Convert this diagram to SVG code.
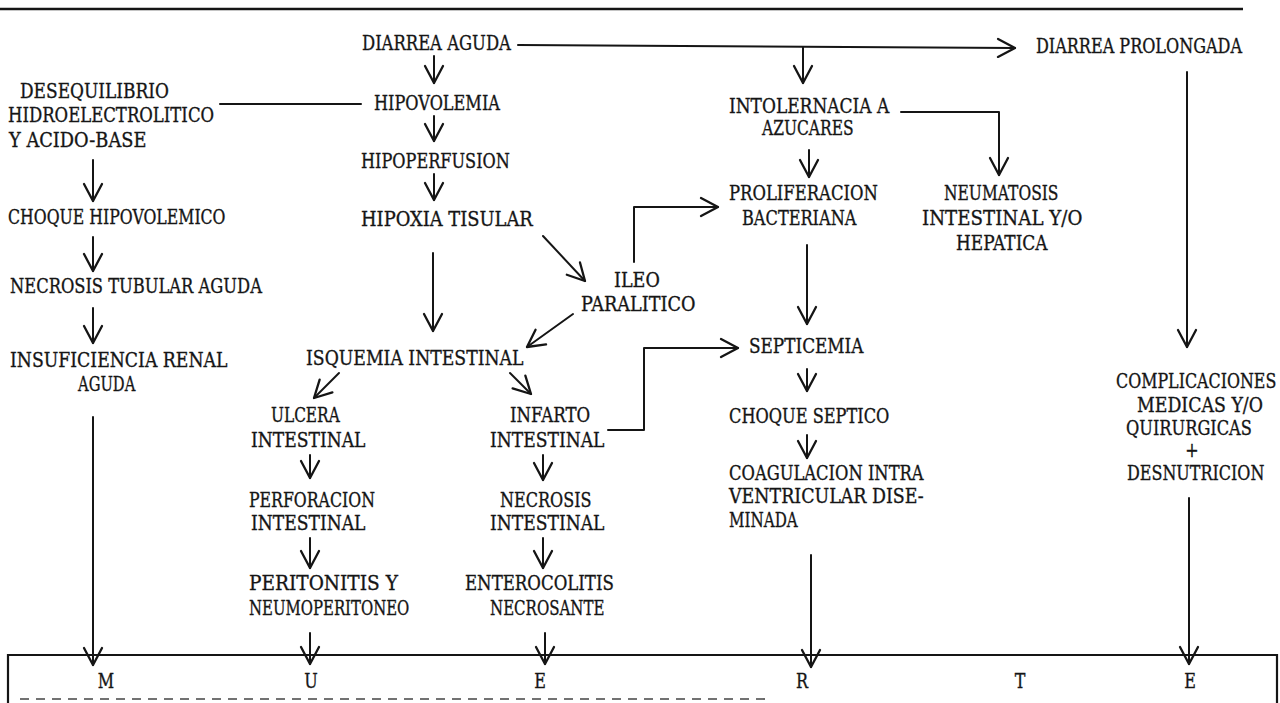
<svg xmlns="http://www.w3.org/2000/svg" width="1280" height="703" viewBox="0 0 1280 703">
<defs>
<style>
text{font-family:"DejaVu Serif","Liberation Serif",serif;font-size:20px;fill:#151515;stroke:#151515;stroke-width:0.35;}
.c{fill:none;stroke:#151515;stroke-width:2;stroke-linecap:round;stroke-linejoin:round;}
.a{marker-end:url(#ah);}
.bx{fill:none;stroke:#151515;stroke-width:2.2;}
</style>
<marker id="ah" markerUnits="userSpaceOnUse" markerWidth="40" markerHeight="40" refX="0" refY="0" orient="auto" viewBox="-20 -20 40 40" overflow="visible">
<path d="M-17,-9 L0,0 L-17,9" fill="none" stroke="#151515" stroke-width="2.3" stroke-linecap="round" stroke-linejoin="round"/>
</marker>
</defs>
<rect width="1280" height="703" fill="#ffffff"/>
<line x1="0" y1="9" x2="1243" y2="9" stroke="#151515" stroke-width="2.6"/>

<g id="connectors">
<path class="c a" d="M518,45 L1015,48"/>
<path class="c a" d="M803,47 L803,83"/>
<path class="c a" d="M434,56 L434,83"/>
<path class="c" d="M220,104 L361,104"/>
<path class="c a" d="M434,116 L434,141"/>
<path class="c a" d="M434,174 L434,200"/>
<path class="c a" d="M93,160 L93,201"/>
<path class="c a" d="M901,112 L999,112 L999,175"/>
<path class="c a" d="M809,150 L809,177"/>
<path class="c a" d="M634,262 L634,207 L718,207"/>
<path class="c a" d="M543,236 L585,281"/>
<path class="c a" d="M433,253 L433,331"/>
<path class="c a" d="M573,314 L527,347"/>
<path class="c a" d="M807,245 L807,324"/>
<path class="c a" d="M93,237 L93,271"/>
<path class="c a" d="M93,308 L93,343"/>
<path class="c a" d="M93,417 L93,665"/>
<path class="c a" d="M339,373 L314,398"/>
<path class="c a" d="M510,373 L531,394"/>
<path class="c a" d="M608,430 L644,430 L644,348 L738,348"/>
<path class="c a" d="M807,369 L807,391"/>
<path class="c a" d="M807,435 L807,458"/>
<path class="c a" d="M811,555 L811,667"/>
<path class="c a" d="M310,455 L310,478"/>
<path class="c a" d="M310,538 L310,568"/>
<path class="c a" d="M310,633 L310,664"/>
<path class="c a" d="M543,455 L543,480"/>
<path class="c a" d="M543,538 L543,568"/>
<path class="c a" d="M545,633 L545,664"/>
<path class="c a" d="M1187,72 L1187,347"/>
<path class="c a" d="M1189,498 L1189,664"/>
</g>

<g id="n-diarrea-aguda"><text transform="translate(362 50) scale(.8 1)" textLength="186.1" lengthAdjust="spacingAndGlyphs">DIARREA AGUDA</text></g>
<g id="n-diarrea-prolongada"><text transform="translate(1036 53) scale(.8 1)" textLength="257.6" lengthAdjust="spacingAndGlyphs">DIARREA PROLONGADA</text></g>
<g id="n-desequilibrio">
<text transform="translate(20 98) scale(.8 1)" textLength="186.1" lengthAdjust="spacingAndGlyphs">DESEQUILIBRIO</text>
<text transform="translate(8 122) scale(.8 1)" textLength="257.6" lengthAdjust="spacingAndGlyphs">HIDROELECTROLITICO</text>
<text transform="translate(9 147) scale(.8 1)" textLength="171.75" lengthAdjust="spacingAndGlyphs">Y ACIDO-BASE</text>
</g>
<g id="n-hipovolemia"><text transform="translate(374 110) scale(.8 1)" textLength="157.4" lengthAdjust="spacingAndGlyphs">HIPOVOLEMIA</text></g>
<g id="n-intolerancia">
<text transform="translate(729 113) scale(.8 1)" textLength="200.4" lengthAdjust="spacingAndGlyphs">INTOLERNACIA A</text>
<text transform="translate(762 135) scale(.8 1)" textLength="114.5" lengthAdjust="spacingAndGlyphs">AZUCARES</text>
</g>
<g id="n-hipoperfusion"><text transform="translate(361 168) scale(.8 1)" textLength="186.1" lengthAdjust="spacingAndGlyphs">HIPOPERFUSION</text></g>
<g id="n-proliferacion">
<text transform="translate(729 200) scale(.8 1)" textLength="186.1" lengthAdjust="spacingAndGlyphs">PROLIFERACION</text>
<text transform="translate(742 225) scale(.8 1)" textLength="143.1" lengthAdjust="spacingAndGlyphs">BACTERIANA</text>
</g>
<g id="n-neumatosis">
<text transform="translate(944 200) scale(.8 1)" textLength="143.1" lengthAdjust="spacingAndGlyphs">NEUMATOSIS</text>
<text transform="translate(922 225) scale(.8 1)" textLength="200.4" lengthAdjust="spacingAndGlyphs">INTESTINAL Y/O</text>
<text transform="translate(956 250) scale(.8 1)" textLength="114.5" lengthAdjust="spacingAndGlyphs">HEPATICA</text>
</g>
<g id="n-choque-hipovolemico"><text transform="translate(8 224) scale(.8 1)" textLength="271.9" lengthAdjust="spacingAndGlyphs">CHOQUE HIPOVOLEMICO</text></g>
<g id="n-hipoxia"><text transform="translate(361 226) scale(.8 1)" textLength="214.7" lengthAdjust="spacingAndGlyphs">HIPOXIA TISULAR</text></g>
<g id="n-necrosis-tubular"><text transform="translate(10 293) scale(.8 1)" textLength="314.9" lengthAdjust="spacingAndGlyphs">NECROSIS TUBULAR AGUDA</text></g>
<g id="n-ileo">
<text transform="translate(614 287) scale(.8 1)" textLength="57.25" lengthAdjust="spacingAndGlyphs">ILEO</text>
<text transform="translate(581 311) scale(.8 1)" textLength="143.1" lengthAdjust="spacingAndGlyphs">PARALITICO</text>
</g>
<g id="n-insuficiencia">
<text transform="translate(10 367) scale(.8 1)" textLength="271.9" lengthAdjust="spacingAndGlyphs">INSUFICIENCIA RENAL</text>
<text transform="translate(78 391) scale(.8 1)" textLength="71.6" lengthAdjust="spacingAndGlyphs">AGUDA</text>
</g>
<g id="n-isquemia"><text transform="translate(306 365) scale(.8 1)" textLength="271.9" lengthAdjust="spacingAndGlyphs">ISQUEMIA INTESTINAL</text></g>
<g id="n-septicemia"><text transform="translate(749 353) scale(.8 1)" textLength="143.1" lengthAdjust="spacingAndGlyphs">SEPTICEMIA</text></g>
<g id="n-ulcera">
<text transform="translate(271 422) scale(.8 1)" textLength="85.9" lengthAdjust="spacingAndGlyphs">ULCERA</text>
<text transform="translate(251 447) scale(.8 1)" textLength="143.1" lengthAdjust="spacingAndGlyphs">INTESTINAL</text>
</g>
<g id="n-infarto">
<text transform="translate(510 422) scale(.8 1)" textLength="100.2" lengthAdjust="spacingAndGlyphs">INFARTO</text>
<text transform="translate(490 447) scale(.8 1)" textLength="143.1" lengthAdjust="spacingAndGlyphs">INTESTINAL</text>
</g>
<g id="n-choque-septico"><text transform="translate(729 423) scale(.8 1)" textLength="200.4" lengthAdjust="spacingAndGlyphs">CHOQUE SEPTICO</text></g>
<g id="n-complicaciones">
<text transform="translate(1116 388) scale(.8 1)" textLength="200.4" lengthAdjust="spacingAndGlyphs">COMPLICACIONES</text>
<text transform="translate(1137 412) scale(.8 1)" textLength="157.4" lengthAdjust="spacingAndGlyphs">MEDICAS Y/O</text>
<text transform="translate(1126 435) scale(.8 1)" textLength="157.4" lengthAdjust="spacingAndGlyphs">QUIRURGICAS</text>
<text transform="translate(1192 457) scale(.8 1)" text-anchor="middle">+</text>
<text transform="translate(1127 480) scale(.8 1)" textLength="171.75" lengthAdjust="spacingAndGlyphs">DESNUTRICION</text>
</g>
<g id="n-coagulacion">
<text transform="translate(729 480) scale(.8 1)" textLength="243.3" lengthAdjust="spacingAndGlyphs">COAGULACION INTRA</text>
<text transform="translate(729 503) scale(.8 1)" textLength="243.3" lengthAdjust="spacingAndGlyphs">VENTRICULAR DISE-</text>
<text transform="translate(729 527) scale(.8 1)" textLength="85.9" lengthAdjust="spacingAndGlyphs">MINADA</text>
</g>
<g id="n-perforacion">
<text transform="translate(249 507) scale(.8 1)" textLength="157.4" lengthAdjust="spacingAndGlyphs">PERFORACION</text>
<text transform="translate(251 530) scale(.8 1)" textLength="143.1" lengthAdjust="spacingAndGlyphs">INTESTINAL</text>
</g>
<g id="n-necrosis-intestinal">
<text transform="translate(500 507) scale(.8 1)" textLength="114.5" lengthAdjust="spacingAndGlyphs">NECROSIS</text>
<text transform="translate(490 530) scale(.8 1)" textLength="143.1" lengthAdjust="spacingAndGlyphs">INTESTINAL</text>
</g>
<g id="n-peritonitis">
<text transform="translate(249 590) scale(.8 1)" textLength="186.1" lengthAdjust="spacingAndGlyphs">PERITONITIS Y</text>
<text transform="translate(249 615) scale(.8 1)" textLength="200.4" lengthAdjust="spacingAndGlyphs">NEUMOPERITONEO</text>
</g>
<g id="n-enterocolitis">
<text transform="translate(465 590) scale(.8 1)" textLength="186.1" lengthAdjust="spacingAndGlyphs">ENTEROCOLITIS</text>
<text transform="translate(490 615) scale(.8 1)" textLength="143.1" lengthAdjust="spacingAndGlyphs">NECROSANTE</text>
</g>
<g id="n-muerte">
<path class="bx" d="M8,703 L8,655 L1277,655 L1277,703"/>
<line x1="20" y1="699" x2="770" y2="699" stroke="#444" stroke-width="1.6" stroke-dasharray="9 7"/>
<text transform="translate(106 688) scale(.8 1)" text-anchor="middle">M</text>
<text transform="translate(311 688) scale(.8 1)" text-anchor="middle">U</text>
<text transform="translate(540 688) scale(.8 1)" text-anchor="middle">E</text>
<text transform="translate(802 688) scale(.8 1)" text-anchor="middle">R</text>
<text transform="translate(1020 688) scale(.8 1)" text-anchor="middle">T</text>
<text transform="translate(1190 688) scale(.8 1)" text-anchor="middle">E</text>
</g>
</svg>
